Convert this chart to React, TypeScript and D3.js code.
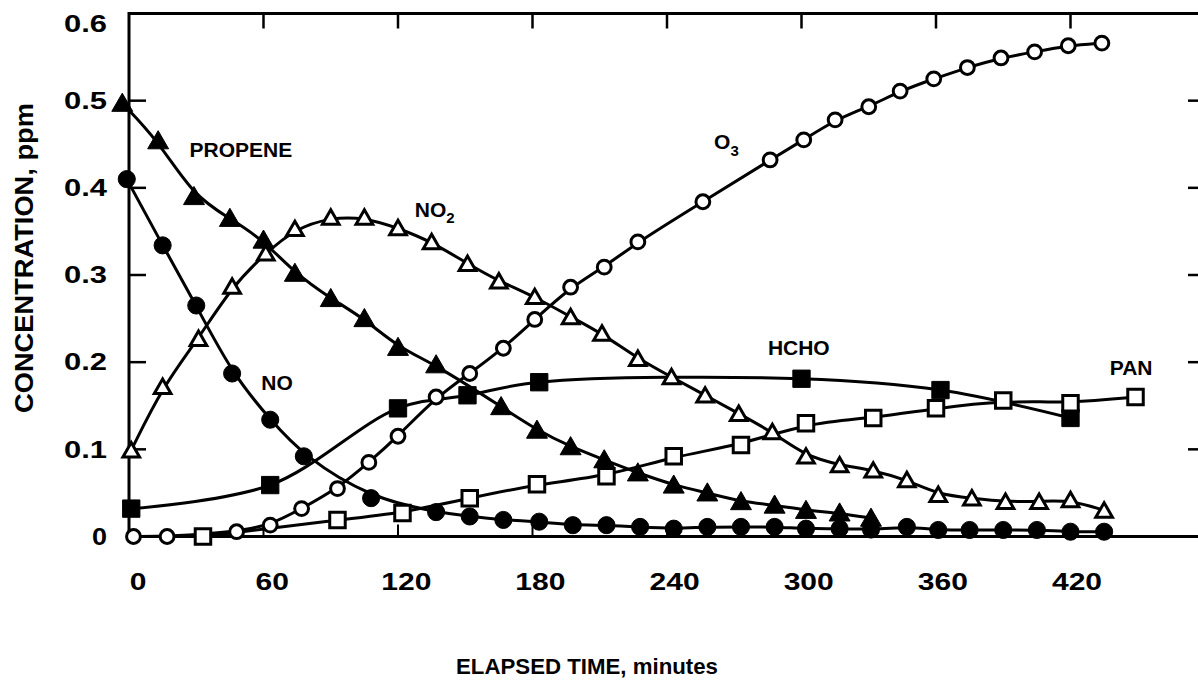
import React, { useEffect, useRef } from "react";
import * as d3 from "d3";

// elapsed time (min) and concentration (ppm)
const propeneT = [-3, 13, 29, 45, 60, 74, 90, 105, 120, 137, 166, 182, 197, 212, 227, 243, 258, 273, 288, 302, 317, 331];
const propeneV = [0.497, 0.454, 0.39, 0.365, 0.34, 0.302, 0.273, 0.25, 0.217, 0.197, 0.149, 0.122, 0.103, 0.088, 0.073, 0.059, 0.05, 0.04, 0.036, 0.03, 0.027, 0.021];

const noT = [-1, 15, 30, 46, 63, 78, 108, 137, 152, 167, 183, 198, 213, 228, 243, 258, 273, 288, 302, 317, 331, 347, 361, 375, 390, 405, 420, 435];
const noV = [0.41, 0.334, 0.265, 0.187, 0.134, 0.092, 0.044, 0.028, 0.023, 0.019, 0.017, 0.013, 0.013, 0.011, 0.009, 0.011, 0.011, 0.011, 0.009, 0.009, 0.008, 0.011, 0.0075, 0.0075, 0.0075, 0.0075, 0.0055, 0.0055];

const no2T = [1, 15, 31, 46, 61, 74, 90, 105, 120, 135, 151, 165, 181, 197, 211, 227, 242, 257, 272, 287, 302, 317, 332, 347, 361, 376, 391, 406, 420, 435];
const no2V = [0.099, 0.172, 0.227, 0.287, 0.325, 0.353, 0.366, 0.366, 0.354, 0.338, 0.313, 0.293, 0.275, 0.252, 0.233, 0.204, 0.183, 0.162, 0.141, 0.12, 0.092, 0.082, 0.076, 0.065, 0.048, 0.044, 0.04, 0.04, 0.042, 0.03];

const hchoT = [1, 63, 120, 151, 183, 300, 362, 420];
const hchoV = [0.032, 0.059, 0.147, 0.162, 0.177, 0.181, 0.168, 0.136];

const panT = [33, 93, 122, 152, 182, 213, 243, 273, 302, 332, 360, 390, 420, 449];
const panV = [0, 0.019, 0.027, 0.044, 0.06, 0.069, 0.092, 0.105, 0.13, 0.136, 0.147, 0.156, 0.153, 0.16];

const o3T = [2, 17, 48, 63, 77, 93, 107, 120, 137, 152, 167, 181, 197, 212, 227, 256, 286, 301, 315, 330, 344, 359, 374, 389, 404, 419, 434];
const o3V = [0, 0, 0.0055, 0.013, 0.032, 0.055, 0.085, 0.115, 0.16, 0.187, 0.216, 0.249, 0.286, 0.309, 0.338, 0.384, 0.432, 0.455, 0.478, 0.493, 0.511, 0.525, 0.538, 0.549, 0.556, 0.563, 0.566];

const xTicks = [0, 60, 120, 180, 240, 300, 360, 420];
const yTicks = [0, 0.1, 0.2, 0.3, 0.4, 0.5, 0.6];
const yTickLabels = ["0", "0.1", "0.2", "0.3", "0.4", "0.5", "0.6"];

const FONT = "'Liberation Sans', Arial, Helvetica, sans-serif";

const App = () => {
  const ref = useRef<SVGSVGElement>(null);
  const width = 1198;
  const height = 683;

  useEffect(() => {
    const svg = d3.select(ref.current);
    svg.selectAll("*").remove();

    const x = d3.scaleLinear().domain([0, 480]).range([129, 1205]);
    const y = d3.scaleLinear().domain([0, 0.6]).range([536.5, 13.5]);
    // the printed numbers sit a little right of the tick marks
    const xLabel = d3.scaleLinear().domain([0, 420]).range([138, 1077]);

    svg.append("rect").attr("width", width).attr("height", height).attr("fill", "white");

    const frame = svg.append("g").attr("stroke", "black").attr("fill", "none");
    frame.append("path")
      .attr("d", `M${x(480)},${y(0.6)}H${x(0)}V${y(0)}H${x(480)}V${y(0.6)}`)
      .attr("stroke-width", 3);

    // ticks, all pointing inwards
    const inner = xTicks.filter(d => d > 0);
    inner.forEach(t => {
      frame.append("line").attr("x1", x(t)).attr("x2", x(t))
        .attr("y1", y(0.6)).attr("y2", y(0.6) + 15).attr("stroke-width", 2.5);
      frame.append("line").attr("x1", x(t)).attr("x2", x(t))
        .attr("y1", y(0)).attr("y2", y(0) - 12).attr("stroke-width", 2);
    });
    yTicks.filter(d => d > 0 && d < 0.6).forEach(v => {
      frame.append("line").attr("x1", x(0)).attr("x2", x(0) + 17)
        .attr("y1", y(v)).attr("y2", y(v)).attr("stroke-width", 2.5);
      frame.append("line").attr("x1", x(480)).attr("x2", x(480) - 17)
        .attr("y1", y(v)).attr("y2", y(v)).attr("stroke-width", 2.5);
    });

    // tick labels
    const txt = svg.append("g").attr("font-family", FONT).attr("font-weight", "bold").attr("fill", "black");
    yTicks.forEach((v, i) => {
      const s = yTickLabels[i];
      txt.append("text")
        .attr("x", 107)
        .attr("y", Math.max(y(v), 24))
        .attr("dy", "0.36em")
        .attr("text-anchor", "end")
        .attr("font-size", 23)
        .attr("textLength", s.length === 1 ? 15 : 43)
        .attr("lengthAdjust", "spacingAndGlyphs")
        .text(s);
    });
    xTicks.forEach(t => {
      const s = String(t);
      txt.append("text")
        .attr("x", xLabel(t))
        .attr("y", 590)
        .attr("text-anchor", "middle")
        .attr("font-size", 24)
        .attr("textLength", s.length * 16.7)
        .attr("lengthAdjust", "spacingAndGlyphs")
        .text(s);
    });

    txt.append("text")
      .attr("x", 587)
      .attr("y", 674)
      .attr("text-anchor", "middle")
      .attr("font-size", 22)
      .attr("textLength", 262)
      .attr("lengthAdjust", "spacingAndGlyphs")
      .text("ELAPSED TIME, minutes");

    txt.append("text")
      .attr("transform", "translate(33,258) rotate(-90)")
      .attr("text-anchor", "middle")
      .attr("font-size", 25)
      .attr("textLength", 310)
      .attr("lengthAdjust", "spacingAndGlyphs")
      .text("CONCENTRATION, ppm");

    // curves
    const series = [
      { name: "PROPENE", t: propeneT, v: propeneV, shape: d3.symbolTriangle, filled: true, curve: d3.curveBasis },
      { name: "NO", t: noT, v: noV, shape: d3.symbolCircle, filled: true, curve: d3.curveBasis },
      { name: "NO2", t: no2T, v: no2V, shape: d3.symbolTriangle, filled: false, curve: d3.curveBasis },
      { name: "HCHO", t: hchoT, v: hchoV, shape: d3.symbolSquare, filled: true, curve: d3.curveCatmullRom },
      { name: "PAN", t: panT, v: panV, shape: d3.symbolSquare, filled: false, curve: d3.curveBasis },
      { name: "O3", t: o3T, v: o3V, shape: d3.symbolCircle, filled: false, curve: d3.curveBasis },
    ];

    const lines = svg.append("g").attr("fill", "none").attr("stroke", "black").attr("stroke-width", 3);
    series.forEach(s => {
      const pts = s.t.map((t, i) => [t, s.v[i]] as [number, number]);
      const line = d3.line<[number, number]>()
        .x(d => x(d[0]))
        .y(d => y(d[1]))
        .curve(s.curve);
      lines.append("path").attr("d", line(pts));
    });

    const sizes = (s) => {
      if (s.shape === d3.symbolTriangle) return s.filled ? 190 : 120;
      if (s.shape === d3.symbolSquare) return s.filled ? 300 : 240;
      return s.filled ? 230 : 150;
    };

    const marks = svg.append("g");
    series.forEach(s => {
      const sym = d3.symbol().type(s.shape).size(sizes(s));
      const dy = s.shape === d3.symbolTriangle ? 2 : 0;
      marks.selectAll(null)
        .data(s.t.map((t, i) => [t, s.v[i]]))
        .enter()
        .append("path")
        .attr("transform", d => `translate(${x(d[0])},${y(d[1]) + dy})`)
        .attr("d", sym)
        .attr("fill", s.filled ? "black" : "white")
        .attr("stroke", "black")
        .attr("stroke-width", s.filled ? 1 : 3)
        .attr("stroke-linejoin", "miter");
    });

    // curve names
    const lab = svg.append("g").attr("font-family", FONT).attr("font-weight", "bold").attr("font-size", 21);
    lab.append("text").attr("x", x(27)).attr("y", y(0.435)).text("PROPENE");
    lab.append("text").attr("x", x(59)).attr("y", y(0.168)).text("NO");
    const no2 = lab.append("text").attr("x", x(127.5)).attr("y", y(0.366));
    no2.append("tspan").text("NO");
    no2.append("tspan").attr("dy", 6).attr("font-size", 15).text("2");
    const o3 = lab.append("text").attr("x", x(261)).attr("y", y(0.445));
    o3.append("tspan").text("O");
    o3.append("tspan").attr("dy", 7).attr("font-size", 15).text("3");
    lab.append("text").attr("x", x(285)).attr("y", y(0.208)).text("HCHO");
    lab.append("text").attr("x", x(437.5)).attr("y", y(0.185)).text("PAN");
  }, []);

  return (
    <svg
      ref={ref}
      width={width}
      height={height}
      style={{ position: "absolute", left: 0, top: 0, display: "block" }}
    />
  );
};

export default App;
